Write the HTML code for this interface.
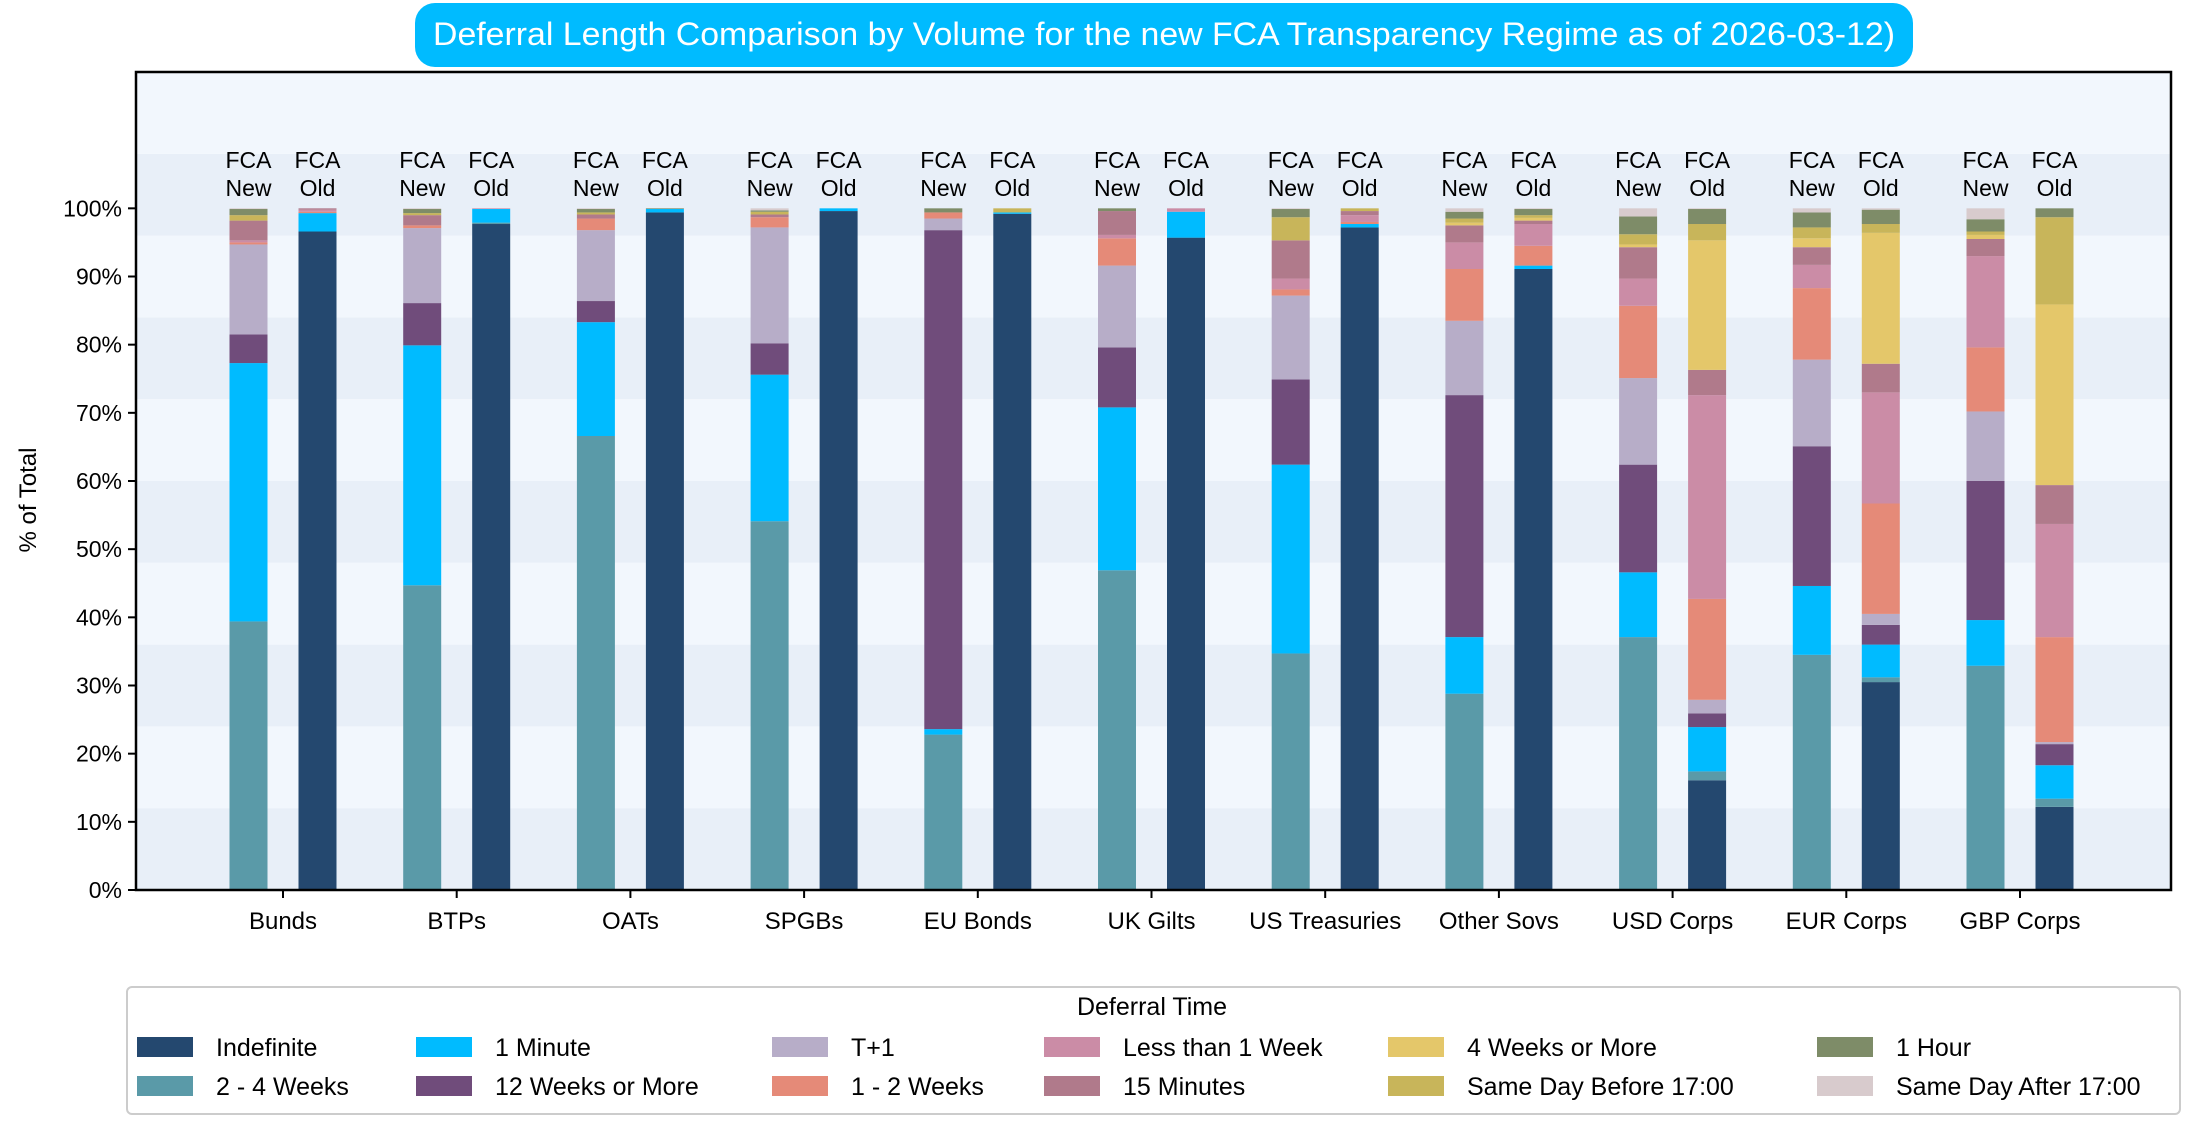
<!DOCTYPE html>
<html><head><meta charset="utf-8">
<style>
html,body{margin:0;padding:0;background:#fff;}
body{width:2198px;height:1132px;overflow:hidden;font-family:"Liberation Sans",sans-serif;}
svg text{font-family:"Liberation Sans",sans-serif;}
</style></head>
<body>
<svg id="chart" width="2198" height="1132" viewBox="0 0 2198 1132" xmlns="http://www.w3.org/2000/svg">
  <rect x="415" y="3" width="1498" height="64" rx="20" fill="#00bbff"/>
  <text x="1164" y="45" font-size="32" fill="#fff" text-anchor="middle" textLength="1462" lengthAdjust="spacingAndGlyphs">Deferral Length Comparison by Volume for the new FCA Transparency Regime as of 2026-03-12)</text>
  <g id="plot"></g>
  <text transform="translate(36,500) rotate(-90)" font-size="24" text-anchor="middle" fill="#000">% of Total</text>
  <g id="legend"></g>
</svg>
<script>
const categories = ["Bunds","BTPs","OATs","SPGBs","EU Bonds","UK Gilts","US Treasuries","Other Sovs","USD Corps","EUR Corps","GBP Corps"];
const seriesNames = ["Indefinite","2 - 4 Weeks","1 Minute","12 Weeks or More","T+1","1 - 2 Weeks","Less than 1 Week","15 Minutes","4 Weeks or More","Same Day Before 17:00","1 Hour","Same Day After 17:00"];
const seriesColors = ["#24486f","#5a9aa8","#00bbff","#704c7b","#b7adc8","#e58a78","#cb8ca6","#b07a8b","#e4c76a","#c8b55a","#7e8c68","#d8cbcd"];
// values per category, per series (percent), FCA New
const newVals = [
  [0,39.4,37.9,4.2,13.2,0.3,0.3,2.9,0,0.8,0.9,0.1],
  [0,44.7,35.2,6.2,11.0,0.4,0,1.5,0,0.3,0.6,0.1],
  [0,66.6,16.7,3.1,10.4,1.7,0,0.6,0,0.3,0.5,0.1],
  [0,54.1,21.5,4.6,17.0,1.5,0,0.4,0,0.4,0.2,0.3],
  [0,22.8,0.8,73.2,1.7,0.9,0,0,0,0,0.6,0],
  [0,46.9,23.9,8.8,12.0,4.0,0.5,3.5,0,0,0.4,0],
  [0,34.7,27.7,12.5,12.3,0.9,1.6,5.6,0,3.4,1.2,0.1],
  [0,28.8,8.3,35.5,10.9,7.6,3.9,2.5,0.4,0.6,1.0,0.5],
  [0,37.1,9.5,15.8,12.7,10.6,4.0,4.6,0.4,1.5,2.6,1.2],
  [0,34.5,10.1,20.5,12.7,10.5,3.4,2.6,1.3,1.6,2.2,0.6],
  [0,32.9,6.7,20.4,10.2,9.4,13.4,2.5,0.6,0.5,1.8,1.6]
];
// FCA Old
const oldVals = [
  [96.6,0,2.7,0,0,0.2,0.3,0.2,0,0,0,0],
  [97.7,0.2,2.0,0,0,0,0.1,0,0,0,0,0],
  [99.4,0,0.5,0,0,0,0,0,0,0,0.1,0],
  [99.6,0,0.4,0,0,0,0,0,0,0,0,0],
  [99.2,0,0.2,0,0,0,0,0,0,0.6,0,0],
  [95.7,0,3.8,0,0,0,0.5,0,0,0,0,0],
  [97.2,0,0.5,0,0,0.3,1.0,0.6,0,0.4,0,0],
  [91.1,0,0.5,0,0,2.9,3.2,0.5,0.4,0.4,0.9,0.1],
  [16.1,1.3,6.5,2.0,2.0,14.8,29.9,3.7,19.0,2.4,2.2,0.1],
  [30.5,0.7,4.8,2.9,1.6,16.2,16.3,4.2,19.2,1.3,2.1,0.2],
  [12.2,1.2,4.9,3.1,0.3,15.4,16.6,5.7,26.5,12.8,1.3,0]
];
const yTicks = [0,10,20,30,40,50,60,70,80,90,100];

const NS="http://www.w3.org/2000/svg";
const L=136,R=2171,T=72,B=890;
const yMax=120;
function y(v){return B-(v/yMax)*(B-T);}
function xc(i){return 283+i*173.7;}
const barW=38, off=34.5;
const plot=document.getElementById('plot');
function mk(tag,attrs,parent){const e=document.createElementNS(NS,tag);for(const k in attrs)e.setAttribute(k,attrs[k]);(parent||plot).appendChild(e);return e;}

for(let b=0;b<10;b++){
  const r=mk('rect',{x:L,y:y((b+1)*12),width:R-L,height:y(b*12)-y((b+1)*12),fill:(b%2===0)?'#e8eff8':'#f2f7fd'});
  
  
}
function drawBar(vals,cx,ci,kind){
  let acc=0;
  vals.forEach((v,si)=>{
    if(v<=0)return;
    const r=mk('rect',{x:cx-barW/2,y:y(acc+v),width:barW,height:y(acc)-y(acc+v),fill:seriesColors[si]});
    
    
    acc+=v;
  });
}
categories.forEach((c,i)=>{
  drawBar(newVals[i],xc(i)-off,i,'new');
  drawBar(oldVals[i],xc(i)+off,i,'old');
  [['FCA','New',-off],['FCA','Old',off]].forEach(([a,b,o])=>{
    const t1=mk('text',{x:xc(i)+o,y:168,'font-size':23,'text-anchor':'middle',fill:'#000'});t1.textContent=a;
    
    
    const t2=mk('text',{x:xc(i)+o,y:196,'font-size':23,'text-anchor':'middle',fill:'#000'});t2.textContent=b;
    
    
  });
  const tk=mk('line',{x1:xc(i),x2:xc(i),y1:B,y2:B+8,stroke:'#000','stroke-width':2});
  
  
  const tl=mk('text',{x:xc(i),y:929,'font-size':24,'text-anchor':'middle',fill:'#000'});tl.textContent=c;
  
  
});
yTicks.forEach(v=>{
  const tk=mk('line',{x1:L-8,x2:L,y1:y(v),y2:y(v),stroke:'#000','stroke-width':2});
  
  
  const tl=mk('text',{x:L-14,y:y(v)+8,'font-size':23,'text-anchor':'end',fill:'#000'});tl.textContent=v+'%';
  
  
});
const frame=mk('rect',{x:L,y:T,width:R-L,height:B-T,fill:'none',stroke:'#000','stroke-width':2.5});



const lg=document.getElementById('legend');
const box=mk('rect',{x:127,y:987,width:2053,height:127,rx:5,fill:'#fff',stroke:'#ccc','stroke-width':2},lg);


const lt=mk('text',{x:1152,y:1015,'font-size':25,'text-anchor':'middle',fill:'#000'},lg);lt.textContent='Deferral Time';


const colX=[137,416,772,1044,1388,1817];
seriesNames.forEach((n,i)=>{
  const col=Math.floor(i/2),row=i%2;
  const ry=row===0?1047:1086;
  const g=mk('g',{},lg);
  
  
  mk('rect',{x:colX[col],y:ry-10,width:56,height:20,fill:seriesColors[i]},g);
  const t=mk('text',{x:colX[col]+79,y:ry+9,'font-size':25,fill:'#000'},g);t.textContent=n;
});
</script>
</body></html>
